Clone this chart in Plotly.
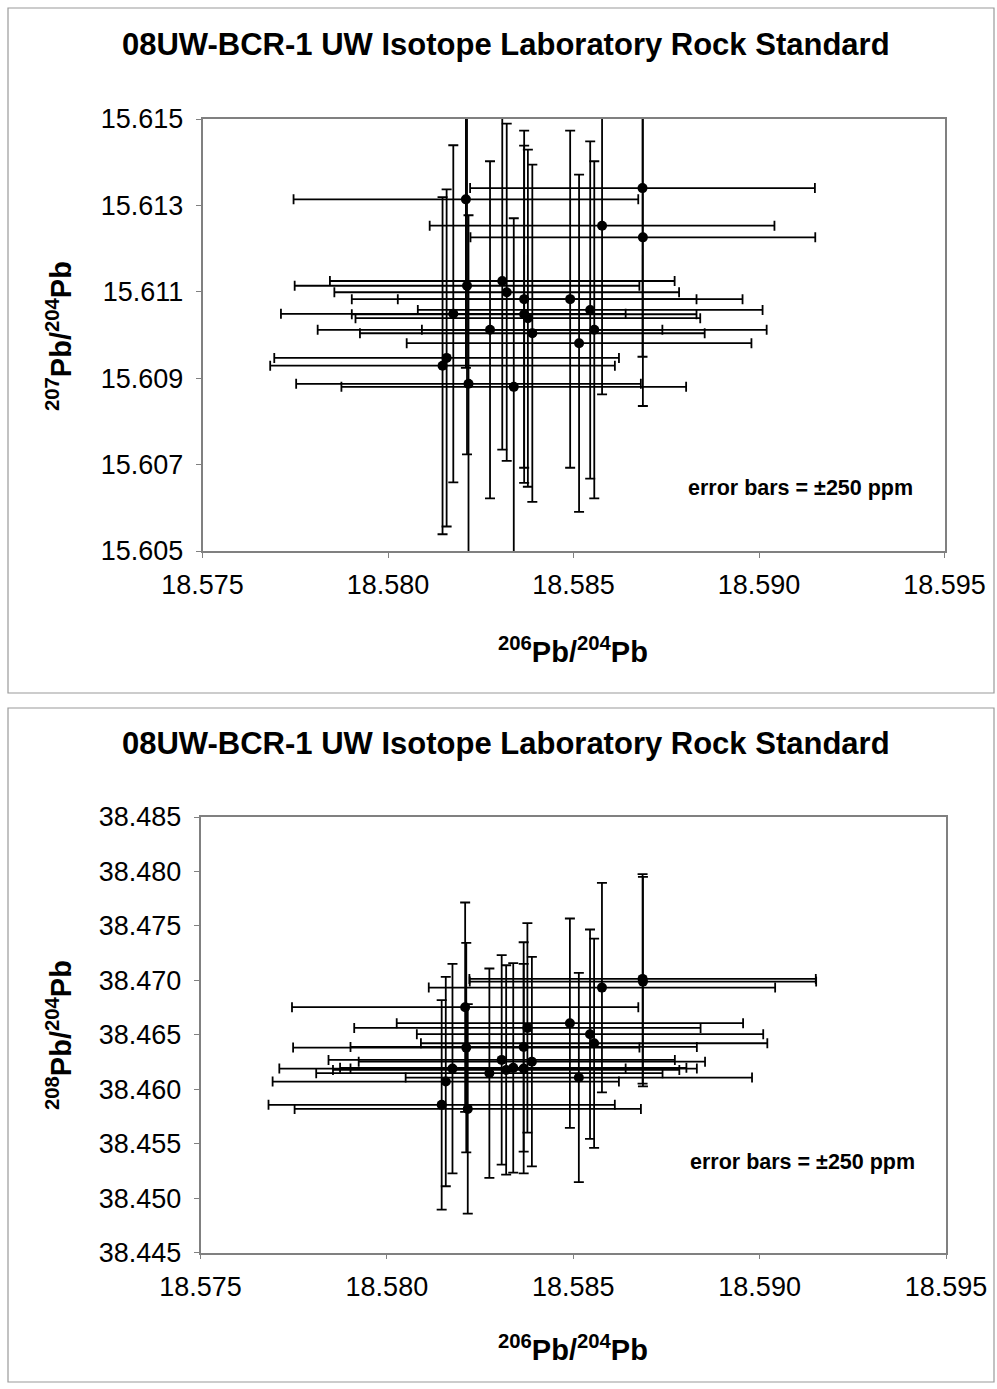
import plotly.graph_objects as go

# ---- data ----
pb206_204 = [18.58686, 18.58210, 18.58577, 18.58687, 18.58308, 18.58213, 18.58320,
             18.58367, 18.58491, 18.58545, 18.58176, 18.58367, 18.58377, 18.58275,
             18.58556, 18.58389, 18.58515, 18.58158, 18.58147, 18.58217, 18.58339]
pb207_204 = [15.61340, 15.61314, 15.61253, 15.61226, 15.61125, 15.61114, 15.61099,
             15.61083, 15.61083, 15.61058, 15.61049, 15.61048, 15.61039, 15.61012,
             15.61012, 15.61004, 15.60981, 15.60947, 15.60929, 15.60887, 15.60880]
pb208_204 = [38.47013, 38.46753, 38.46933, 38.46988, 38.46269, 38.46382, 38.46177,
             38.46388, 38.46606, 38.46505, 38.46189, 38.46189, 38.46563, 38.46147,
             38.46422, 38.46253, 38.46107, 38.46070, 38.45856, 38.45819, 38.46196]
error_percent = 0.025  # +/-250 ppm

title_text = "08UW-BCR-1 UW Isotope Laboratory Rock Standard"
x_title = "<b><sup>206</sup>Pb/<sup>204</sup>Pb</b>"
y_title_top = "<b><sup>207</sup>Pb/<sup>204</sup>Pb</b>"
y_title_bot = "<b><sup>208</sup>Pb/<sup>204</sup>Pb</b>"
note_text = "<b>error bars = \u00b1250 ppm</b>"

x_range = [18.575, 18.595]
y_range_top = [15.605, 15.615]
y_range_bot = [38.445, 38.485]

W, H = 997, 1389
FONT = "Liberation Sans, Arial, Helvetica, sans-serif"


def px(x):
    return x / W


def py(y):
    return 1 - y / H


fig = go.Figure()

err_style = dict(type="percent", value=error_percent, color="black", thickness=1.8, width=5)
marker = dict(color="black", size=10)

fig.add_trace(go.Scatter(x=pb206_204, y=pb207_204, mode="markers", marker=marker,
                         error_x=err_style, error_y=err_style,
                         xaxis="x", yaxis="y", showlegend=False))
fig.add_trace(go.Scatter(x=pb206_204, y=pb208_204, mode="markers", marker=marker,
                         error_x=err_style, error_y=err_style,
                         xaxis="x2", yaxis="y2", showlegend=False))

axis_common = dict(showline=True, mirror=True, linecolor="#808080", linewidth=1.5,
                   ticks="outside", ticklen=5, tickcolor="#808080", automargin=False,
                   showgrid=False, zeroline=False, tickformat=".3f",
                   tickfont=dict(family=FONT, size=27, color="black"))

fig.update_layout(
    template="none",
    width=W, height=H, autosize=False,
    margin=dict(l=0, r=0, t=0, b=0, pad=0),
    paper_bgcolor="white", plot_bgcolor="white",
    xaxis=dict(domain=[px(202.5), px(944.5)], range=x_range, dtick=0.005, tick0=18.575,
               anchor="y", ticklabelstandoff=4, **axis_common),
    yaxis=dict(domain=[py(551), py(119)], range=y_range_top, dtick=0.002, tick0=15.605,
               anchor="x", ticklabelstandoff=7, **axis_common),
    xaxis2=dict(domain=[px(200.5), px(946)], range=x_range, dtick=0.005, tick0=18.575,
                anchor="y2", ticklabelstandoff=4, **axis_common),
    yaxis2=dict(domain=[py(1252.5), py(817)], range=y_range_bot, dtick=0.005, tick0=38.445,
                anchor="x2", ticklabelstandoff=7, **axis_common),
)

# panel borders
for (y0, y1) in [(8, 693), (708, 1382)]:
    fig.add_shape(type="rect", xref="paper", yref="paper",
                  x0=px(8), x1=px(994), y0=py(y1), y1=py(y0),
                  line=dict(color="#9a9a9a", width=1.2), layer="below")

ann = []
for (ty, xy, yy, ytxt, nx, ny) in [(44, 650, 336, y_title_top, 800, 488),
                                   (743, 1348, 1035, y_title_bot, 802, 1162)]:
    ann.append(dict(text="<b>" + title_text + "</b>", x=px(506), y=py(ty),
                    xref="paper", yref="paper", showarrow=False,
                    xanchor="center", yanchor="middle",
                    font=dict(family=FONT, size=31, color="black")))
    ann.append(dict(text=x_title, x=px(573), y=py(xy), xref="paper", yref="paper",
                    showarrow=False, xanchor="center", yanchor="middle",
                    font=dict(family=FONT, size=29, color="black")))
    ann.append(dict(text=ytxt, x=px(59), y=py(yy), xref="paper", yref="paper",
                    showarrow=False, xanchor="center", yanchor="middle", textangle=-90,
                    font=dict(family=FONT, size=29, color="black")))
    ann.append(dict(text=note_text, x=px(nx), y=py(ny), xref="paper", yref="paper",
                    showarrow=False, xanchor="center", yanchor="middle",
                    font=dict(family=FONT, size=21.5, color="black")))
fig.update_layout(annotations=ann)

fig.write_html("out.html")
